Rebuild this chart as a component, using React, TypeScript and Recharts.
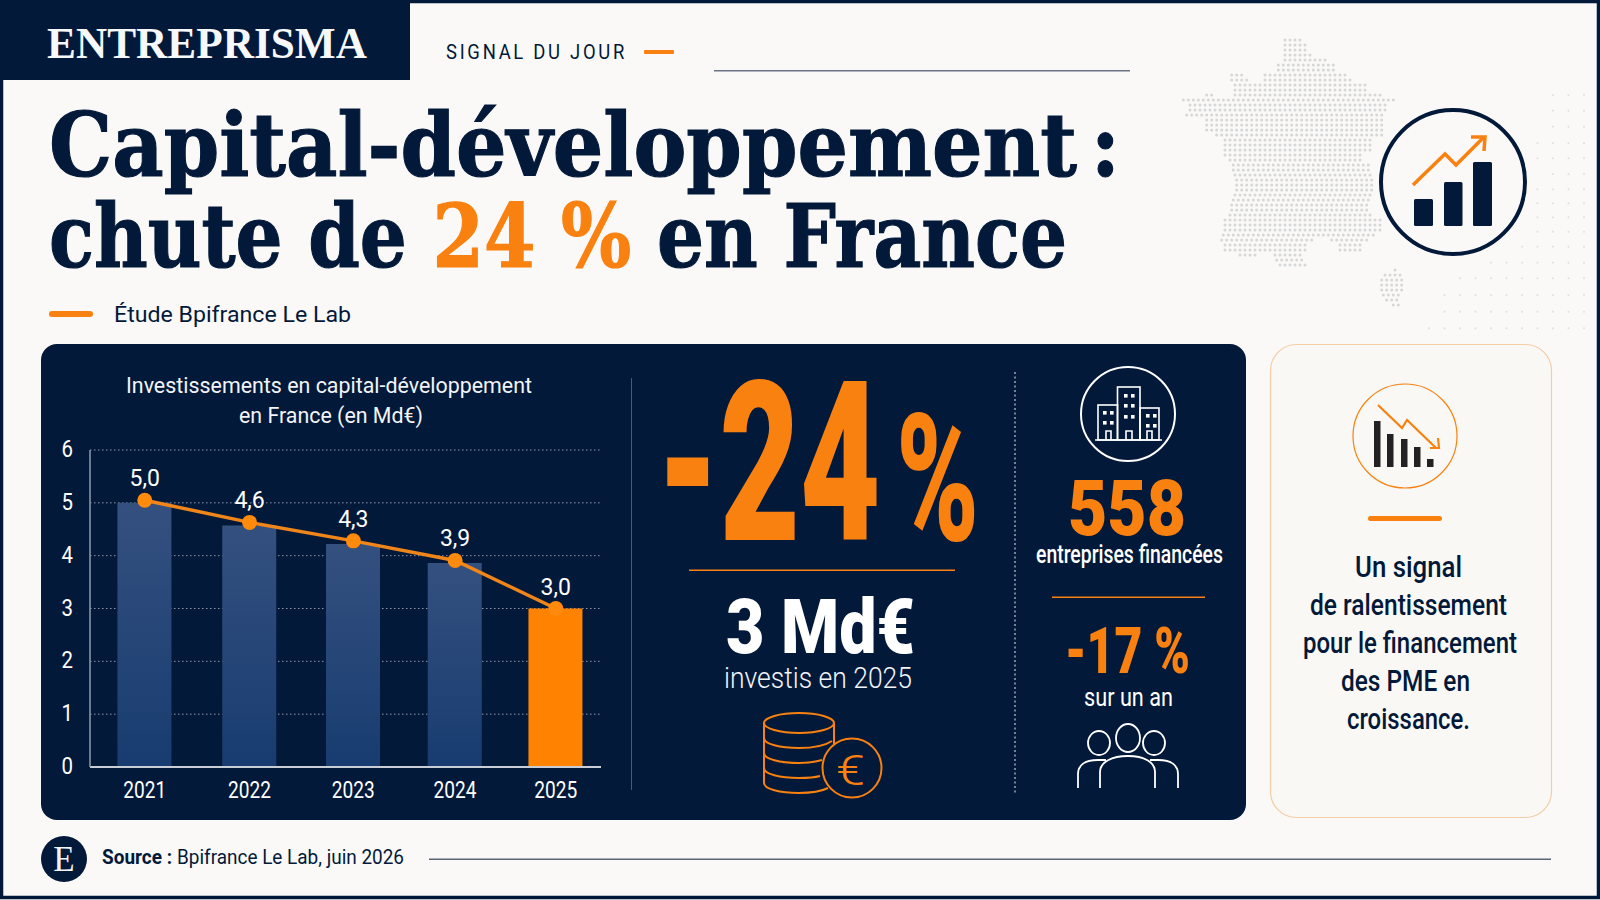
import React from "react";
import {
  ComposedChart,
  Bar,
  Line,
  Cell,
  XAxis,
  YAxis,
  CartesianGrid,
  LabelList,
} from "recharts";

const NAVY = "#03193A";
const ORANGE = "#F98110";
const PAPER = "#FAF9F7";
const SANS = "Roboto, 'Noto Sans', sans-serif";
const SERIF = "'Liberation Serif', serif";
const SLAB = "'DejaVu Serif', serif";

// The bars are not quite evenly spaced in the picture, hence the fractions.
const yearPositions = [2021, 2022.02, 2023.03, 2024.02, 2025];
const barValues = [5.0, 4.57, 4.22, 3.86, 3.0];
const pointValues = [5.05, 4.63, 4.28, 3.91, 3.0];
const pointLabels = ["5,0", "4,6", "4,3", "3,9", "3,0"];
const yTicks = [0, 1, 2, 3, 4, 5, 6];

const chartData = yearPositions.map((year, i) => ({
  year,
  bar: barValues[i],
  point: pointValues[i],
  label: pointLabels[i],
}));

const noteLines: [string, number, number, number][] = [
  ["Un signal", 1355, 577, 107],
  ["de ralentissement", 1310, 615, 197],
  ["pour le financement", 1303, 653, 214],
  ["des PME en", 1341, 691, 129],
  ["croissance.", 1347, 729, 123],
];

// Dot map of France: [row, from, to, from, to...] in a 3x grid.
const mapRows: number[][] = [
  [60, 405, 460], [80, 405, 470], [100, 405, 490], [120, 405, 525], [140, 385, 560],
  [160, 245, 275, 345, 590], [180, 245, 300, 345, 600], [200, 255, 650], [220, 170, 190, 255, 690],
  [240, 100, 730], [260, 120, 715], [280, 110, 705], [300, 170, 700], [320, 170, 700],
  [340, 200, 700], [360, 225, 670], [380, 225, 660], [400, 225, 640], [420, 240, 630],
  [440, 250, 655], [460, 255, 665], [480, 260, 665], [500, 260, 665], [520, 255, 665],
  [540, 250, 660], [560, 245, 655], [580, 240, 660], [600, 225, 700], [620, 225, 690],
  [640, 220, 670], [660, 215, 490, 545, 650], [680, 225, 470, 570, 640], [700, 270, 325, 375, 460],
  [720, 380, 465], [740, 390, 475], [755, 735, 745], [770, 705, 755], [785, 695, 760],
  [800, 695, 760], [815, 695, 760], [830, 700, 755], [845, 710, 750], [860, 730, 745],
];

// Faint dot field on the right: [row, first column]
const fieldRows: number[][] = [
  [225, 1205], [272, 1205], [320, 1205], [370, 1155], [415, 1155], [462, 1205], [508, 1160], [550, 1160],
  [592, 1160], [635, 1160], [680, 1105], [728, 1015], [775, 925], [825, 880], [875, 880], [925, 835],
];

function T({
  x,
  y,
  w,
  size,
  fill = NAVY,
  weight = 400,
  font = SANS,
  ls,
  children,
}: {
  x: number;
  y: number;
  w?: number;
  size: number;
  fill?: string;
  weight?: number;
  font?: string;
  ls?: number;
  children: React.ReactNode;
}) {
  return (
    <text
      x={x}
      y={y}
      fontSize={size}
      fontFamily={font}
      fontWeight={weight}
      fill={fill}
      letterSpacing={ls}
      textLength={w}
      lengthAdjust={w ? "spacingAndGlyphs" : undefined}
    >
      {children}
    </text>
  );
}

// Roboto squeezed to the narrow width of the reference's axis labels.
function XTick({ x, y, payload }: any) {
  return (
    <text
      x={x}
      y={y}
      textAnchor="middle"
      fontSize={24.5}
      fontFamily={SANS}
      fill="#fff"
      textLength={43}
      lengthAdjust="spacingAndGlyphs"
    >
      {Math.round(payload.value)}
    </text>
  );
}

function YTick({ x, y, payload }: any) {
  return (
    <text
      x={x}
      y={y + 7}
      textAnchor="end"
      fontSize={24}
      fontFamily={SANS}
      fill="#fff"
      textLength={11.5}
      lengthAdjust="spacingAndGlyphs"
    >
      {payload.value}
    </text>
  );
}

function FranceMap() {
  const dots: React.ReactNode[] = [];
  for (let zy = 60; zy <= 865; zy += 15) {
    const row = mapRows.reduce((best, r) =>
      Math.abs(r[0] - zy) < Math.abs(best[0] - zy) ? r : best
    );
    for (let s = 1; s < row.length; s += 2) {
      for (let zx = row[s]; zx <= row[s + 1]; zx += 15) {
        dots.push(
          <circle key={`${zy}-${zx}`} cx={1150 + zx / 3} cy={20 + zy / 3} r={1.5} fill="#D6D7D9" />
        );
      }
    }
  }
  fieldRows.forEach(([zy, first]) => {
    for (let zx = 1302; zx >= first; zx -= 46.5) {
      dots.push(<circle key={`f${zy}-${zx}`} cx={1150 + zx / 3} cy={20 + zy / 3} r={1} fill="#E0E0E0" />);
    }
  });
  return <g>{dots}</g>;
}

function RiseIcon() {
  return (
    <g>
      <circle cx={1453} cy={182} r={72} fill={PAPER} stroke={NAVY} strokeWidth={4} />
      <rect x={1414} y={199} width={19} height={27} rx={1.5} fill={NAVY} />
      <rect x={1444} y={182} width={18.5} height={44} rx={1.5} fill={NAVY} />
      <rect x={1473} y={162} width={19} height={64} rx={1.5} fill={NAVY} />
      <polyline points="1413,185 1445,154 1456,165 1484,137" fill="none" stroke={ORANGE} strokeWidth={3.5} />
      <polyline points="1471,137 1485,137 1484,151" fill="none" stroke={ORANGE} strokeWidth={3.5} />
    </g>
  );
}

function CoinsIcon() {
  const s = { fill: "none", stroke: ORANGE, strokeWidth: 2 };
  return (
    <g>
      <ellipse cx={799} cy={723} rx={35} ry={10} {...s} />
      <path d="M764 723 V783 C764 789 780 793 799 793 C812 793 822 791 828 788" {...s} />
      <path d="M834 723 V744" {...s} />
      <path d="M764 738 C764 744 780 748 799 748 C814 748 826 745 832 741" {...s} />
      <path d="M764 753 C764 759 780 763 799 763 C807 763 815 762 822 760" {...s} />
      <path d="M764 768 C764 774 780 778 799 778 C805 778 813 778 820 776" {...s} />
      <circle cx={852} cy={768} r={29.5} fill={NAVY} stroke={ORANGE} strokeWidth={2} />
      <T x={836} y={785} w={29} size={43} fill={ORANGE} weight={300}>€</T>
    </g>
  );
}

function BuildingsIcon() {
  const s = { fill: "none", stroke: "#fff", strokeWidth: 1.6 };
  const windows = [
    [1124, 394], [1131, 394], [1124, 404], [1131, 404], [1124, 415], [1131, 415],
    [1103, 411], [1110, 411], [1103, 421], [1110, 421], [1146, 414], [1153, 414], [1146, 424], [1153, 424],
  ];
  return (
    <g>
      <circle cx={1128} cy={414} r={47} {...s} strokeWidth={2} />
      <rect x={1117.5} y={387} width={22.5} height={53} {...s} />
      <rect x={1098} y={405} width={19.5} height={35} {...s} />
      <rect x={1140} y={408} width={19} height={32} {...s} />
      <path d="M1095 440 H1162 M1106 440 V431 H1111 V440 M1126 440 V431 H1132 V440 M1147 440 V431 H1152 V440" {...s} />
      {windows.map(([x, y]) => (
        <rect key={`${x}-${y}`} x={x} y={y} width={3.6} height={3.6} fill="#fff" />
      ))}
    </g>
  );
}

function PeopleIcon() {
  const s = { fill: "none", stroke: "#fff", strokeWidth: 1.8 };
  return (
    <g>
      <ellipse cx={1128} cy={738} rx={12} ry={14} {...s} />
      <ellipse cx={1099} cy={743} rx={11} ry={12} {...s} />
      <ellipse cx={1154} cy={743} rx={11} ry={12} {...s} />
      <path d="M1100 788 V772 C1100 762 1112 756 1128 756 C1144 756 1155 762 1155 772 V788" {...s} />
      <path d="M1078 788 V774 C1078 766 1084 760 1098 760 L1106 760" {...s} />
      <path d="M1178 788 V774 C1178 766 1172 760 1158 760 L1150 760" {...s} />
    </g>
  );
}

function DropIcon() {
  const bars = [
    [1374, 421],
    [1387, 434],
    [1401, 439],
    [1414, 447],
    [1427, 459],
  ];
  return (
    <g>
      <circle cx={1405} cy={436} r={52} fill="none" stroke={ORANGE} strokeWidth={1.2} />
      {bars.map(([x, y]) => (
        <rect key={x} x={x} y={y} width={6.5} height={467 - y} fill="#222" />
      ))}
      <polyline points="1378,405 1402,428 1407,420 1436,448" fill="none" stroke={ORANGE} strokeWidth={2.2} />
      <polyline points="1430,448 1439,448 1438,438" fill="none" stroke={ORANGE} strokeWidth={2.2} />
    </g>
  );
}

export default function App() {
  return (
    <div
      style={{
        position: "fixed",
        left: 0,
        top: 0,
        width: 1600,
        height: 900,
        overflow: "hidden",
        background: PAPER,
      }}
    >
      <svg width={1600} height={900} style={{ position: "absolute", left: 0, top: 0 }}>
        <FranceMap />
        <RiseIcon />
        <rect x={1.5} y={1.5} width={1597} height={896} fill="none" stroke={NAVY} strokeWidth={3.5} />
        <rect x={0} y={0} width={410} height={80} fill={NAVY} />
        <rect x={41} y={344} width={1205} height={476} rx={16} fill={NAVY} />
        <rect x={1270.5} y={344.5} width={281} height={473} rx={26} fill="#FAF8F5" stroke="#F4CDA5" strokeWidth={1.2} />
      </svg>

      <div style={{ position: "absolute", left: 0, top: 420 }}>
        <ComposedChart
          width={640}
          height={420}
          data={chartData}
          margin={{ top: 30, right: 39, bottom: 33, left: 50 }}
        >
          <defs>
            <linearGradient id="barFill" x1="0" y1="0" x2="0" y2="1">
              <stop offset="0%" stopColor="#34507F" />
              <stop offset="100%" stopColor="#183C70" />
            </linearGradient>
          </defs>
          <CartesianGrid
            vertical={false}
            stroke="#8C97A8"
            strokeDasharray="1.5 2.5"
            strokeWidth={1}
          />
          <XAxis
            dataKey="year"
            type="number"
            domain={[2020.467, 2025.44]}
            ticks={yearPositions}
            height={40}
            axisLine={{ stroke: "#C9CED6", strokeWidth: 2 }}
            tickLine={false}
            tickSize={0}
            tickMargin={31}
            tick={<XTick />}
          />
          <YAxis
            width={40}
            domain={[0, 6]}
            ticks={yTicks}
            axisLine={{ stroke: "#8F9BAD", strokeWidth: 1.5 }}
            tickLine={false}
            tickSize={0}
            tickMargin={17}
            tick={<YTick />}
          />
          <Bar dataKey="bar" barSize={54} isAnimationActive={false}>
            {chartData.map((d, i) => (
              <Cell key={d.year} fill={i === yearPositions.length - 1 ? "#FF8200" : "url(#barFill)"} />
            ))}
          </Bar>
          <Line
            dataKey="point"
            stroke="#F0861A"
            strokeWidth={3.5}
            dot={{ r: 7.5, fill: "#FF8A0C", stroke: "#FF8A0C", strokeWidth: 0 }}
            isAnimationActive={false}
          >
            <LabelList
              dataKey="label"
              position="top"
              offset={14}
              fill="#fff"
              fontSize={23}
              fontFamily={SANS}
            />
          </Line>
        </ComposedChart>
      </div>

      <svg
        width={1600}
        height={900}
        style={{ position: "absolute", left: 0, top: 0, pointerEvents: "none" }}
      >
        {/* En-tete */}
        <T x={47} y={58} w={320} size={45} fill="#F7F8FA" font={SERIF} weight={700}>ENTREPRISMA</T>
        <T x={446} y={59} w={181} size={20.5} ls={3}>SIGNAL DU JOUR</T>
        <rect x={644} y={50} width={30} height={4} rx={1} fill={ORANGE} />
        <rect x={714} y={70} width={416} height={1.5} fill="#6A7486" />

        <g stroke={NAVY} strokeWidth={1.2}>
          <T x={49} y={176} w={1071} size={88} font={SLAB} weight={700}>
            Capital-développement<tspan fontSize={44}> </tspan>:
          </T>
          <text
            x={49}
            y={267}
            fontSize={88}
            fontFamily={SLAB}
            fontWeight={700}
            fill={NAVY}
            textLength={1018}
            lengthAdjust="spacingAndGlyphs"
          >
            chute de <tspan fill={ORANGE} stroke={ORANGE}>24 %</tspan> en France
          </text>
        </g>
        <rect x={49} y={311} width={44} height={6} rx={3} fill={ORANGE} />
        <T x={114} y={322} w={237} size={22}>Étude Bpifrance Le Lab</T>

        {/* Graphique */}
        <T x={126} y={393} w={406} size={22} fill="#F2F4F7">Investissements en capital-développement</T>
        <T x={239} y={423} w={184} size={22} fill="#F2F4F7">en France (en Md€)</T>
        <rect x={631} y={378} width={1} height={412} fill="#4A5A75" />

        {/* Chiffres */}
        <text
          x={657}
          y={540}
          fill={ORANGE}
          fontFamily={SANS}
          fontWeight={900}
          textLength={322}
          lengthAdjust="spacingAndGlyphs"
        >
          <tspan fontSize={222}>-24</tspan>
          <tspan fontSize={100}> </tspan>
          <tspan fontSize={178}>%</tspan>
        </text>
        <rect x={689} y={569.5} width={266} height={1.5} fill={ORANGE} />
        <T x={726} y={653} w={189} size={76} fill="#fff" weight={900}>3 Md€</T>
        <T x={724} y={688} w={188} size={29} fill="#F2F4F7" weight={300}>investis en 2025</T>
        <CoinsIcon />

        <line x1={1015} y1={372} x2={1015} y2={793} stroke="#9AA5B6" strokeWidth={1.5} strokeDasharray="2 2.5" />
        <BuildingsIcon />
        <T x={1068} y={535} w={118} size={78} fill={ORANGE} weight={900}>558</T>
        <T x={1036} y={563} w={187} size={26} fill="#fff" weight={500}>entreprises financées</T>
        <rect x={1052} y={596.5} width={153} height={1.5} fill={ORANGE} />
        <T x={1065} y={673} w={125} size={64} fill={ORANGE} weight={900}>-17 %</T>
        <T x={1084} y={706} w={89} size={26} fill="#fff">sur un an</T>
        <PeopleIcon />

        {/* Encadre */}
        <DropIcon />
        <rect x={1368} y={516} width={74} height={5} rx={2.5} fill={ORANGE} />
        {noteLines.map(([line, x, y, w]) => (
          <T key={line} x={x} y={y} w={w} size={29} weight={500}>{line}</T>
        ))}

        {/* Source */}
        <circle cx={64} cy={859} r={23} fill={NAVY} />
        <text x={64} y={871} textAnchor="middle" fontSize={35} fontFamily={SERIF} fill="#F2F4F7">E</text>
        <T x={102} y={864} w={70} size={20} weight={700}>Source :</T>
        <T x={177} y={864} w={227} size={20}>Bpifrance Le Lab, juin 2026</T>
        <rect x={429} y={858.5} width={1122} height={1.5} fill="#5B6578" />
      </svg>
    </div>
  );
}
